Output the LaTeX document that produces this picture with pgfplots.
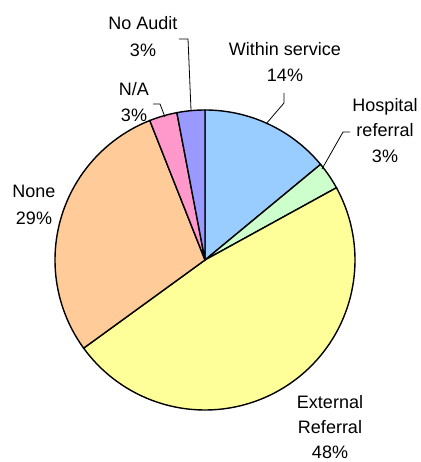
\documentclass[border=0pt]{standalone}
\usepackage{pgfplots}
\pgfplotsset{compat=1.18}
\usepackage{fontspec}
\setmainfont{Liberation Sans}
% data (percentages)
\def\pWithin{14}
\def\pHosp{3}
\def\pExt{48}
\def\pNone{29}
\def\pNA{3}
\def\pNoAudit{3}
\pgfmathsetmacro\cA{\pWithin}
\pgfmathsetmacro\cB{\cA+\pHosp}
\pgfmathsetmacro\cC{\cB+\pExt}
\pgfmathsetmacro\cD{\cC+\pNone}
\pgfmathsetmacro\cE{\cD+\pNA}
\pgfmathsetmacro\cF{\cE+\pNoAudit}
\definecolor{cblue}{RGB}{153,204,255}
\definecolor{cgreen}{RGB}{204,255,204}
\definecolor{cyellow}{RGB}{255,255,153}
\definecolor{cpeach}{RGB}{255,204,153}
\definecolor{cpink}{RGB}{255,153,204}
\definecolor{clav}{RGB}{153,153,255}
\def\R{150}
\def\CX{205}
\def\CY{202}
\tikzset{lbl/.style={anchor=base, font=\fontsize{18bp}{22bp}\selectfont, inner sep=0pt}}
\begin{document}
\begin{tikzpicture}
\begin{axis}[
  width=421bp, height=462bp, scale only axis,
  xmin=0, xmax=421, ymin=0, ymax=462,
  hide axis, clip=false,
  every axis plot/.append style={line width=1.4bp, draw=black, samples=120, variable=\t},
]
\addplot[fill=cblue, domain={90-3.6*\cA}:{90}] ({\CX+\R*cos(\t)},{\CY+\R*sin(\t)}) -- (\CX,\CY) -- cycle;
\addplot[fill=cgreen, domain={90-3.6*\cB}:{90-3.6*\cA}] ({\CX+\R*cos(\t)},{\CY+\R*sin(\t)}) -- (\CX,\CY) -- cycle;
\addplot[fill=cyellow, domain={90-3.6*\cC}:{90-3.6*\cB}] ({\CX+\R*cos(\t)},{\CY+\R*sin(\t)}) -- (\CX,\CY) -- cycle;
\addplot[fill=cpeach, domain={90-3.6*\cD}:{90-3.6*\cC}] ({\CX+\R*cos(\t)},{\CY+\R*sin(\t)}) -- (\CX,\CY) -- cycle;
\addplot[fill=cpink, domain={90-3.6*\cE}:{90-3.6*\cD}] ({\CX+\R*cos(\t)},{\CY+\R*sin(\t)}) -- (\CX,\CY) -- cycle;
\addplot[fill=clav, domain={90-3.6*\cF}:{90-3.6*\cE}] ({\CX+\R*cos(\t)},{\CY+\R*sin(\t)}) -- (\CX,\CY) -- cycle;
% leader lines
\addplot[line width=0.8bp, fill=none] coordinates {(284,369) (284,359) (266,338)};
\addplot[line width=0.8bp, fill=none] coordinates {(350,330) (343,330) (322,293)};
\addplot[line width=0.8bp, fill=none] coordinates {(179,423) (188,423) (191,352)};
\addplot[line width=0.8bp, fill=none] coordinates {(153,358) (160,358) (165,345)};
% labels
\node[lbl] at (axis cs:285,406) {Within service};
\node[lbl] at (axis cs:285,380) {14\%};
\node[lbl] at (axis cs:385,350) {Hospital};
\node[lbl] at (axis cs:385,325) {referral};
\node[lbl] at (axis cs:385,299) {3\%};
\node[lbl] at (axis cs:330,53) {External};
\node[lbl] at (axis cs:330,28) {Referral};
\node[lbl] at (axis cs:330,3) {48\%};
\node[lbl] at (axis cs:34,264) {None};
\node[lbl] at (axis cs:34,237) {29\%};
\node[lbl] at (axis cs:134,366) {N/A};
\node[lbl] at (axis cs:134,340) {3\%};
\node[lbl] at (axis cs:143,432) {No Audit};
\node[lbl] at (axis cs:143,405) {3\%};
\end{axis}
\pgfresetboundingbox
\path (current axis.south west) rectangle (current axis.north east);
\end{tikzpicture}
\end{document}
